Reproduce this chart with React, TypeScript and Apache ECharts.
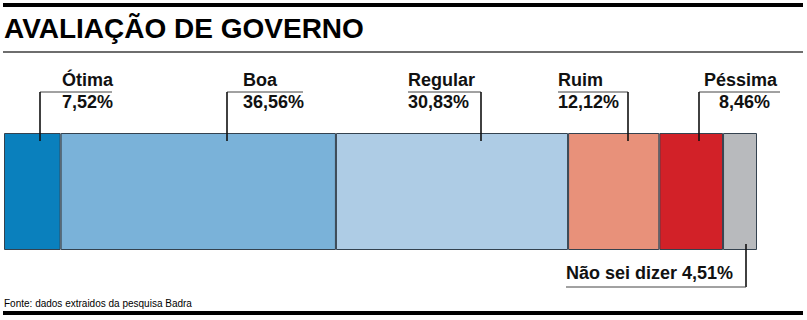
import React, { useEffect, useRef } from "react";
import * as echarts from "echarts";

const categories = ["Ótima", "Boa", "Regular", "Ruim", "Péssima", "Não sei dizer"];
const values = [7.52, 36.56, 30.83, 12.12, 8.46, 4.51];
const colors = ["#0a80bd", "#7ab2d9", "#aecce5", "#e8917a", "#d22128", "#b8babd"];
const titleText = "AVALIAÇÃO DE GOVERNO";
const sourceText = "Fonte: dados extraidos da pesquisa Badra";

// annotation layout (pixels): leader x, horizontal rule from h1 to h2, label x and alignment
const topLeaders = [
  { vx: 40, h1: 40, h2: 112, tx: 62, align: "left", tx2: 62 },
  { vx: 227, h1: 227, h2: 303, tx: 243, align: "left", tx2: 243 },
  { vx: 481, h1: 408, h2: 481, tx: 408, align: "left", tx2: 408 },
  { vx: 628, h1: 558, h2: 628, tx: 558, align: "left", tx2: 558 },
  { vx: 699, h1: 699, h2: 780, tx: 777, align: "right", tx2: 770 },
];

const fmt = (v: number) => v.toFixed(2).replace(".", ",") + "%";
const FONT = "'Liberation Sans', Arial, Helvetica, sans-serif";

export default function App() {
  const ref = useRef<HTMLDivElement>(null);
  useEffect(() => {
    if (!ref.current) return;
    const chart = echarts.init(ref.current, undefined, { renderer: "svg" });

    const graphics: any[] = [
      { type: "rect", shape: { x: 3, y: 3, width: 800, height: 4 }, style: { fill: "#000" } },
      {
        type: "text",
        x: 4,
        y: 28.5,
        style: { text: titleText, fontFamily: FONT, fontWeight: "bold", fontSize: 28, fill: "#000", verticalAlign: "middle", align: "left" },
      },
      { type: "rect", shape: { x: 3, y: 51, width: 800, height: 2 }, style: { fill: "#6e6e6e" } },
      { type: "rect", shape: { x: 3, y: 311, width: 800, height: 4 }, style: { fill: "#000" } },
      {
        type: "text",
        x: 4,
        y: 303.5,
        style: { text: sourceText, fontFamily: FONT, fontSize: 10, fill: "#000", verticalAlign: "middle", align: "left" },
      },
    ];

    topLeaders.forEach((L, i) => {
      graphics.push({ type: "line", shape: { x1: L.h1, y1: 92, x2: L.h2, y2: 92 }, style: { stroke: "#444", lineWidth: 1 }, z: 100 });
      graphics.push({ type: "line", shape: { x1: L.vx, y1: 92, x2: L.vx, y2: 141 }, style: { stroke: "#111", lineWidth: 1.6 }, z: 100 });
      graphics.push({
        type: "text",
        x: L.tx,
        y: 79.5,
        style: { text: categories[i], fontFamily: FONT, fontWeight: "bold", fontSize: 18, fill: "#111", verticalAlign: "middle", align: L.align },
        z: 100,
      });
      graphics.push({
        type: "text",
        x: L.tx2,
        y: 101.5,
        style: { text: fmt(values[i]), fontFamily: FONT, fontWeight: "bold", fontSize: 18, fill: "#111", verticalAlign: "middle", align: L.align },
        z: 100,
      });
    });

    graphics.push({ type: "line", shape: { x1: 746, y1: 244, x2: 746, y2: 287 }, style: { stroke: "#111", lineWidth: 1.6 }, z: 100 });
    graphics.push({ type: "line", shape: { x1: 566, y1: 287, x2: 746, y2: 287 }, style: { stroke: "#444", lineWidth: 1 }, z: 100 });
    graphics.push({
      type: "text",
      x: 566,
      y: 273,
      style: { text: categories[5] + " " + fmt(values[5]), fontFamily: FONT, fontWeight: "bold", fontSize: 18, fill: "#111", verticalAlign: "middle", align: "left" },
      z: 100,
    });

    chart.setOption({
      animation: false,
      grid: { left: 4, right: 50, top: 133, bottom: 70, containLabel: false },
      xAxis: { type: "value", min: 0, max: 100, show: false },
      yAxis: { type: "category", data: ["avaliação"], show: false },
      series: categories.map((c, i) => ({
        name: c,
        type: "bar",
        stack: "total",
        barWidth: "100%",
        data: [values[i]],
        itemStyle: { color: colors[i], borderColor: "#34424f", borderWidth: 1 },
        silent: true,
      })),
      graphic: graphics,
    });

    return () => chart.dispose();
  }, []);

  return <div ref={ref} style={{ position: "fixed", left: 0, top: 0, width: 807, height: 320, background: "#fff" }} />;
}
